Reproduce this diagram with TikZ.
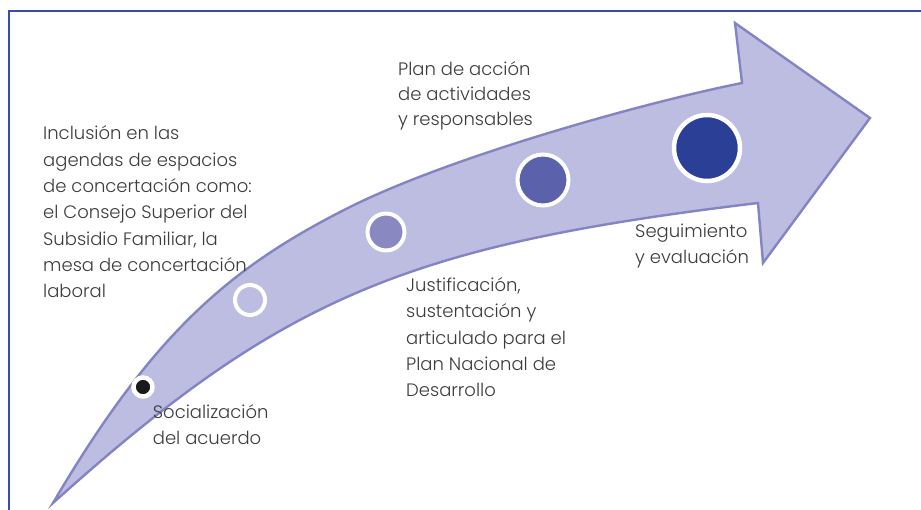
\documentclass[tikz,border=0pt]{standalone}
\usepackage{fontspec}
\setmainfont{Poppins Light}
\definecolor{arrowfill}{HTML}{BCBDE0}
\definecolor{arrowline}{HTML}{8384C3}
\definecolor{framecol}{HTML}{3A4CA8}
\definecolor{txtgray}{HTML}{3C3C3C}
\definecolor{cthree}{HTML}{8A88C0}
\definecolor{cfour}{HTML}{5B62AB}
\definecolor{cfive}{HTML}{2B3F96}
\definecolor{cdot}{HTML}{1A1A1A}
\tikzset{
  lbl/.style={anchor=base west, inner sep=0pt, text=txtgray, font=\fontsize{18}{22}\selectfont},
  milestone/.style={circle, draw=white, inner sep=0pt},
  framestyle/.style={draw=framecol, line width=1.2pt},
  arrowstyle/.style={fill=arrowfill, draw=arrowline, line width=2.4pt, line join=miter}
}
\begin{document}
\begin{tikzpicture}[x=1pt,y=-1pt]
\useasboundingbox (0,0) rectangle (921,510);
% frame
\coordinate (fb) at (9,510);
\coordinate (fc) at (9,11);
\coordinate (fr) at (921,11);
\draw[framestyle] (fb) -- (fc) -- (fr);
% arrow
\coordinate (tail) at (53,503);
\coordinate (mid) at (350,207);
\coordinate (n1) at (742,83);
\coordinate (h1) at (735,23);
\coordinate (tip) at (870,118);
\coordinate (h2) at (763,263);
\coordinate (n2) at (758,203);
\path[arrowstyle] (tail) .. controls (153,333) and (230,267) .. (mid)
  .. controls (450,157) and (642,103) .. (n1)
  -- (h1) -- (tip) -- (h2) -- (n2)
  .. controls (408,245) and (283,296) .. (tail) -- cycle;
% milestones
\node[milestone, fill=cdot, line width=4.5pt, minimum size=19pt] (m1) at (143,387) {};
\node[milestone, fill=arrowfill, line width=4pt, minimum size=30pt] (m2) at (250,300) {};
\node[milestone, fill=cthree, line width=4pt, minimum size=37pt] (m3) at (386,232) {};
\node[milestone, fill=cfour, line width=4pt, minimum size=51pt] (m4) at (543,180) {};
\node[milestone, fill=cfive, line width=4.5pt, minimum size=66pt] (m5) at (707,148) {};
% text block 1
\node[lbl] (a1) at (43,140) {Inclusión en las};
\node[lbl] (a2) at (43,166.3) {agendas de espacios};
\node[lbl] (a3) at (43,192.6) {de concertación como:};
\node[lbl] (a4) at (43,218.9) {el Consejo Superior del};
\node[lbl] (a5) at (43,245.2) {Subsidio Familiar, la};
\node[lbl] (a6) at (43,271.5) {mesa de concertación};
\node[lbl] (a7) at (43,297.8) {laboral};
% text block 2
\node[lbl] (b1) at (398,76) {Plan de acción};
\node[lbl] (b2) at (398,101) {de actividades};
\node[lbl] (b3) at (398,126) {y responsables};
% text block 3
\node[lbl] (c1) at (406,291.7) {Justificación,};
\node[lbl] (c2) at (406,318) {sustentación y};
\node[lbl] (c3) at (406,344.2) {articulado para el};
\node[lbl] (c4) at (406,370.5) {Plan Nacional de};
\node[lbl] (c5) at (406,396.7) {Desarrollo};
% text block 4
\node[lbl] (d1) at (635,237.7) {Seguimiento};
\node[lbl] (d2) at (635,263.3) {y evaluación};
% text block 5
\node[lbl] (e1) at (152.7,419) {Socialización};
\node[lbl] (e2) at (152.7,444) {del acuerdo};
\end{tikzpicture}
\end{document}
